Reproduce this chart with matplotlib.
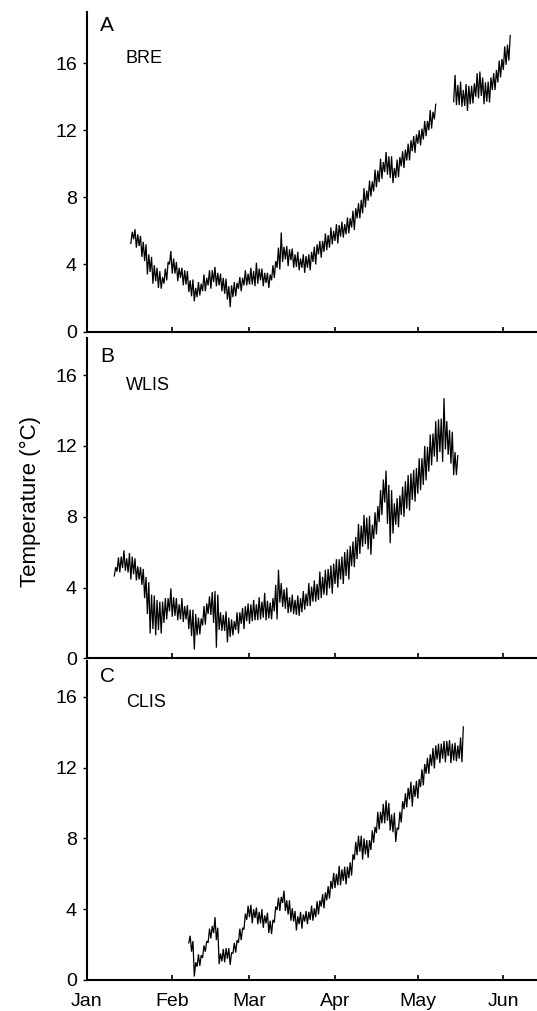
import numpy as np
import matplotlib
matplotlib.use("Agg")
import matplotlib.pyplot as plt

plt.rcParams['font.family'] = ['Liberation Sans', 'DejaVu Sans']

# ---------------- data (day of year, 0 = Jan 1) ----------------
month_ticks = [0, 31, 59, 90, 120, 151]
month_labels = ["Jan", "Feb", "Mar", "Apr", "May", "Jun"]
y_ticks = [0, 4, 8, 12, 16]

# Panel A: BRE (two segments, gap in mid May)
bre_start1 = 16
bre_mean1 = [5.6, 5.8, 5.4, 5.4, 4.9, 4.7, 4.0, 4.0, 3.4, 3.4,
             3.1, 2.9, 3.3, 3.6, 4.4, 3.9, 3.8, 3.4, 3.5, 3.2,
             3.2, 2.7, 2.6, 2.2, 2.5, 2.5, 2.9, 2.8, 3.2, 3.1,
             3.4, 3.1, 3.1, 2.8, 2.7, 2.3, 2.1, 2.5, 2.5, 2.9,
             2.8, 3.2, 3.1, 3.3, 3.2, 3.4, 3.3, 3.4, 3.1, 3.2,
             3.0, 3.5, 3.7, 4.4, 4.8, 4.6, 4.7, 4.4, 4.6, 4.2,
             4.3, 4.0, 4.2, 4.0, 4.2, 4.2, 4.6, 4.6, 5.0, 4.9,
             5.3, 5.3, 5.6, 5.6, 5.9, 5.8, 6.1, 6.0, 6.3, 6.3,
             6.7, 6.7, 7.2, 7.3, 7.8, 7.9, 8.4, 8.5, 9.0, 9.1,
             9.6, 9.6, 10.1, 9.9, 9.8, 9.3, 9.7, 9.8, 10.3, 10.3,
             10.7, 10.8, 11.2, 11.2, 11.6, 11.6, 12.0, 12.1, 12.6, 12.6, 13.1]
bre_range1 = [0.7, 0.6, 0.8, 0.6, 0.9, 1.0, 1.2, 0.9, 1.1, 0.8,
              1.0, 0.7, 0.9, 1.1, 0.8, 0.9, 0.7, 0.8, 0.6, 0.9,
              0.8, 0.7, 1.0, 0.8, 0.9, 0.7, 1.0, 0.8, 0.9, 1.1,
              0.9, 0.8, 0.7, 0.8, 0.9, 0.8, 1.3, 0.9, 0.8, 0.7,
              0.8, 0.9, 0.7, 1.0, 0.8, 1.4, 0.9, 0.7, 0.8, 0.6,
              0.8, 0.9, 1.0, 1.2, 2.2, 0.9, 0.8, 1.0, 0.7, 0.8,
              0.9, 0.7, 0.8, 1.0, 0.8, 1.1, 0.9, 1.2, 0.8, 1.0,
              1.1, 0.9, 1.2, 0.8, 1.0, 1.1, 0.9, 0.8, 1.0, 0.9,
              1.0, 1.3, 0.9, 1.1, 1.5, 1.0, 1.2, 0.9, 1.3, 1.0,
              1.4, 1.0, 1.2, 1.1, 1.3, 0.9, 1.1, 1.2, 0.9, 1.1,
              1.0, 1.2, 0.9, 1.1, 0.8, 1.0, 1.1, 0.9, 1.2, 1.0, 0.9]
bre_start2 = 133
bre_mean2 = [14.5, 14.1, 14.2, 13.9, 14.1, 13.9, 14.1, 14.2, 14.7, 14.7,
             14.6, 14.2, 14.3, 14.4, 14.9, 15.0, 15.5, 15.7, 16.3, 16.5, 16.9]
bre_range2 = [1.6, 1.2, 1.4, 1.0, 1.3, 1.5, 1.1, 1.2, 1.4, 1.6,
              1.1, 1.3, 1.2, 1.5, 1.0, 1.2, 1.3, 1.1, 1.4, 1.2, 1.5]

# Panel B: WLIS
wlis_start = 10
wlis_mean = [4.9, 5.3, 5.3, 5.6, 5.3, 5.4, 5.1, 5.2, 4.8, 4.8,
             4.6, 4.0, 3.4, 2.5, 2.6, 2.3, 2.4, 2.3, 2.7, 2.8,
             3.3, 2.9, 2.9, 2.6, 2.8, 2.5, 2.6, 2.2, 2.0, 1.5,
             1.8, 1.8, 2.4, 2.5, 3.0, 3.1, 2.9, 2.1, 2.1, 2.0,
             2.1, 1.6, 1.7, 1.7, 2.1, 2.0, 2.4, 2.3, 2.6, 2.5,
             2.7, 2.6, 2.8, 2.7, 3.0, 2.7, 2.7, 2.8, 3.4, 3.6,
             3.7, 3.4, 3.4, 3.0, 3.1, 2.9, 3.0, 2.9, 3.2, 3.2,
             3.6, 3.5, 3.8, 3.7, 4.1, 4.0, 4.3, 4.3, 4.6, 4.5,
             4.9, 4.8, 5.1, 5.1, 5.4, 5.4, 5.9, 6.0, 6.6, 6.7,
             7.2, 7.2, 7.1, 6.7, 7.5, 7.8, 8.6, 9.1, 9.7, 8.7,
             8.0, 7.9, 8.3, 8.3, 8.9, 9.0, 9.4, 9.4, 9.8, 9.8,
             10.3, 10.4, 10.9, 11.0, 11.6, 11.8, 12.4, 12.3, 12.6, 12.9,
             12.6, 12.2, 11.9, 11.0, 10.9]
wlis_range = [0.5, 0.8, 0.9, 1.0, 0.7, 1.1, 1.3, 0.9, 0.8, 0.7,
              0.9, 1.2, 1.8, 2.2, 1.9, 2.0, 1.6, 1.8, 1.4, 1.2,
              1.3, 1.1, 1.0, 0.9, 1.2, 0.9, 0.8, 1.1, 1.5, 2.0,
              1.0, 0.9, 1.1, 1.2, 1.0, 1.3, 1.8, 3.0, 1.0, 0.9,
              1.1, 1.4, 1.0, 0.8, 1.0, 1.2, 0.9, 1.3, 1.0, 1.1,
              1.2, 0.9, 1.3, 1.0, 1.4, 1.1, 0.9, 1.2, 1.5, 2.8,
              1.1, 1.0, 1.2, 0.9, 1.0, 0.8, 1.1, 1.0, 1.2, 0.9,
              1.3, 1.1, 1.2, 1.0, 1.6, 1.2, 1.4, 1.5, 1.3, 1.7,
              1.4, 1.6, 1.3, 1.8, 1.5, 1.9, 1.4, 1.7, 2.0, 1.6,
              1.8, 1.5, 1.9, 1.7, 1.5, 1.6, 1.8, 2.0, 1.8, 2.2,
              3.0, 1.7, 1.5, 1.8, 1.6, 2.0, 1.9, 2.1, 1.7, 1.9,
              2.0, 1.8, 2.2, 1.9, 2.1, 1.8, 2.0, 2.4, 1.9, 3.6,
              1.6, 1.4, 1.8, 1.3, 1.1]

# Panel C: CLIS
clis_start = 37
clis_mean = [2.3, 1.9, 0.6, 1.1, 1.1, 1.6, 1.9, 2.5, 2.7, 3.1,
             2.6, 1.2, 1.4, 1.4, 1.5, 1.2, 1.8, 1.9, 2.5, 2.6,
             3.3, 3.8, 3.9, 3.6, 3.8, 3.5, 3.6, 3.3, 3.5, 3.0,
             3.0, 3.7, 4.3, 4.3, 4.7, 4.2, 4.1, 3.7, 3.6, 3.2,
             3.5, 3.3, 3.6, 3.5, 3.8, 3.7, 4.0, 4.1, 4.5, 4.5,
             4.9, 5.1, 5.6, 5.6, 5.9, 5.8, 6.0, 5.9, 6.2, 6.5,
             7.3, 7.6, 7.7, 7.4, 7.5, 7.4, 7.9, 8.2, 8.9, 9.0,
             9.4, 9.5, 9.5, 8.9, 8.9, 8.2, 9.0, 9.5, 10.1, 10.3,
             10.7, 10.4, 10.8, 10.8, 11.4, 11.6, 12.1, 12.2, 12.6, 12.6,
             12.9, 12.8, 13.0, 12.9, 13.1, 12.8, 12.9, 12.8, 13.1, 13.3]
clis_range = [0.4, 0.6, 0.8, 0.7, 0.6, 0.7, 0.6, 0.8, 0.7, 0.9,
              0.7, 0.6, 0.7, 0.8, 0.6, 0.7, 0.6, 0.7, 0.8, 0.7,
              0.9, 0.8, 0.7, 0.8, 0.6, 0.7, 0.8, 0.7, 0.6, 0.7,
              0.8, 0.9, 0.7, 0.8, 0.7, 0.6, 0.8, 0.7, 0.6, 0.8,
              0.7, 0.8, 0.6, 0.7, 0.8, 0.7, 0.9, 0.8, 0.7, 0.9,
              0.8, 1.0, 0.9, 0.8, 1.1, 0.9, 0.8, 1.0, 0.9, 1.2,
              1.0, 1.1, 0.9, 1.2, 0.8, 1.0, 1.1, 0.9, 1.2, 1.0,
              1.1, 1.3, 1.0, 0.9, 1.1, 0.8, 1.0, 1.2, 0.9, 1.1,
              1.0, 1.2, 0.9, 1.1, 1.0, 1.2, 0.9, 1.1, 1.0, 1.3,
              0.9, 1.1, 1.0, 1.2, 0.9, 1.1, 1.0, 0.9, 1.2, 2.0]


def zigzag(start, mean, rng):
    """Alternate each day's low and high reading (half a day apart)."""
    mean = np.asarray(mean, float)
    rng = np.asarray(rng, float)
    days = start + np.arange(len(mean))
    x = np.column_stack([days, days + 0.5]).ravel()
    y = np.column_stack([mean - rng / 2, mean + rng / 2]).ravel()
    return x, y


fig = plt.figure(figsize=(5.37, 10.11), dpi=100)
left = 86.7 / 537
width = 1.0 - left
rects = [
    [left, 1 - 331.5 / 1011, width, (331.5 - 12) / 1011],
    [left, 1 - 658.3 / 1011, width, (658.3 - 338.3) / 1011],
    [left, 1 - 980 / 1011, width, (980 - 661) / 1011],
]
ytops = [19.05, 18.08, 18.02]
letters = ["A", "B", "C"]
stations = ["BRE", "WLIS", "CLIS"]
letter_y = [0.957, 0.9425, 0.951]
station_y = [0.855, 0.854, 0.869]

series = [
    [zigzag(bre_start1, bre_mean1, bre_range1), zigzag(bre_start2, bre_mean2, bre_range2)],
    [zigzag(wlis_start, wlis_mean, wlis_range)],
    [zigzag(clis_start, clis_mean, clis_range)],
]

for i in range(3):
    ax = fig.add_axes(rects[i])
    for x, y in series[i]:
        ax.plot(x, y, color="black", lw=0.9, solid_joinstyle="miter")
    ax.set_xlim(0, 163.2)
    ax.set_ylim(0, ytops[i])
    ax.set_yticks(y_ticks)
    ax.set_xticks(month_ticks)
    if i == 2:
        ax.set_xticklabels(month_labels)
    else:
        ax.set_xticklabels([])
    for s in ["top", "right"]:
        ax.spines[s].set_visible(False)
    for s in ["left", "bottom"]:
        ax.spines[s].set_linewidth(1.5)
    ax.tick_params(axis="y", direction="out", length=3, width=1, labelsize=14, pad=4)
    ax.tick_params(axis="x", direction="in", length=3.5, width=1.2, labelsize=14, pad=9)
    ax.text(0.03, letter_y[i], letters[i], transform=ax.transAxes, fontsize=15,
            ha="left", va="center")
    ax.text(0.087, station_y[i], stations[i], transform=ax.transAxes, fontsize=13,
            ha="left", va="center")

fig.text(30.5 / 537, 1 - 501.7 / 1011, "Temperature (°C)", rotation=90,
         ha="center", va="center", fontsize=16)

fig.savefig("out.png", dpi=100)
